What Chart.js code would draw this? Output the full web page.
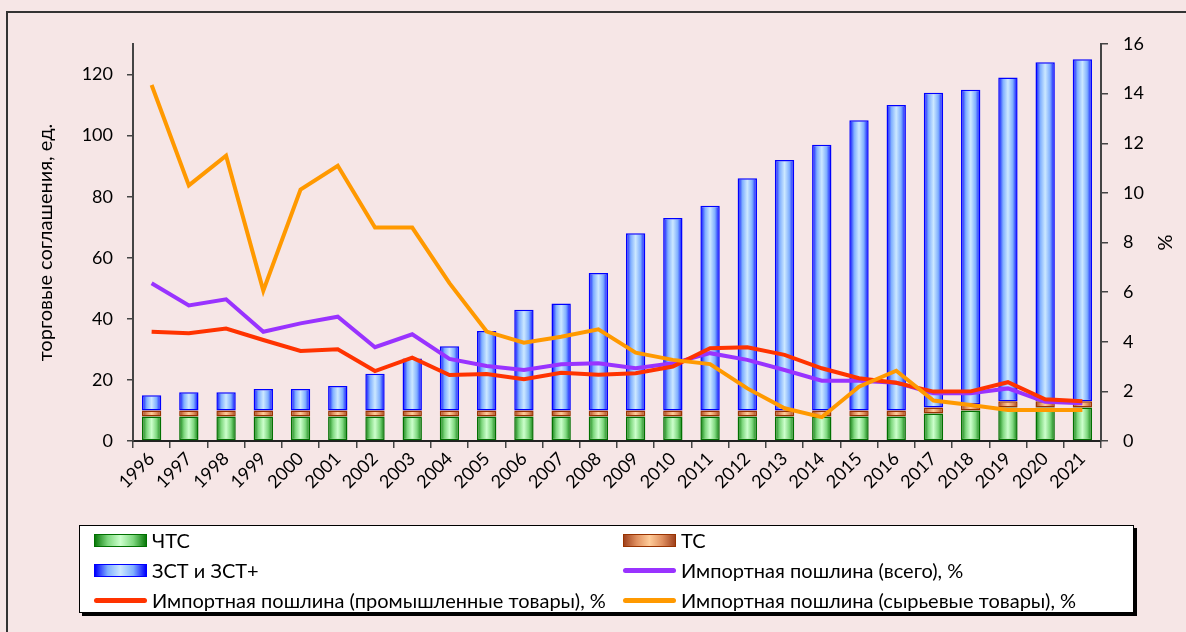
<!DOCTYPE html>
<html>
<head>
<meta charset="utf-8">
<script src="https://cdn.jsdelivr.net/npm/chart.js@4/dist/chart.umd.min.js"></script>
<style>
html,body{margin:0;padding:0;background:#f6e6e6;overflow:hidden;}
#wrap{position:relative;width:1186px;height:632px;}
#frame{position:absolute;left:6px;top:11px;width:1300px;height:700px;border:2px solid #333;box-sizing:border-box;}
#c{position:absolute;left:0;top:0;}
#legend{position:absolute;left:79px;top:525px;width:1055px;height:88px;background:#fff;border:1.5px solid #000;box-shadow:3px 3px 0 #000;box-sizing:border-box;font-family:Lato;font-size:20px;color:#000;}
.item{position:absolute;display:flex;align-items:center;height:24px;white-space:nowrap;}
.sw{width:53px;height:13px;margin-right:5px;box-sizing:border-box;}
.ln{width:53px;height:5px;border-radius:3px;margin-right:5px;}
</style>
</head>
<body>
<div id="wrap">
<div id="frame"></div>
<canvas id="c" width="1186" height="632"></canvas>
<div id="legend"></div>
</div>
<script>
let years=["1996","1997","1998","1999","2000","2001","2002","2003","2004","2005","2006","2007","2008","2009","2010","2011","2012","2013","2014","2015","2016","2017","2018","2019","2020","2021"];

// торговые соглашения, ед.
let chts=[8,8,8,8,8,8,8,8,8,8,8,8,8,8,8,8,8,8,8,8,8,9,10,11,11,11];
let ts=[2,2,2,2,2,2,2,2,2,2,2,2,2,2,2,2,2,2,2,2,2,2,2,2,2,2];
let zst=[5,6,6,7,7,8,12,17,21,26,33,35,45,58,63,67,76,82,87,95,100,103,103,106,111,112];

// импортная пошлина, %
let dutyAll=[6.36,5.46,5.71,4.4,4.74,5.01,3.78,4.3,3.31,3.02,2.86,3.09,3.13,2.93,3.13,3.54,3.27,2.86,2.43,2.43,2.35,1.92,1.92,2.12,1.58,1.52];
let dutyInd=[4.4,4.34,4.53,4.07,3.63,3.7,2.82,3.36,2.66,2.7,2.49,2.75,2.67,2.73,3.0,3.74,3.78,3.47,2.93,2.53,2.35,1.99,2.0,2.37,1.68,1.6];
let dutyRaw=[14.35,10.3,11.5,6.06,10.13,11.09,8.6,8.6,6.36,4.41,3.96,4.2,4.5,3.56,3.27,3.1,2.12,1.32,0.96,2.19,2.83,1.63,1.45,1.25,1.25,1.25];

let barPct=0.52;

function barGrad(dark,mid,light){
return function(ctx){
let chart=ctx.chart;
let xs=chart.scales.x;
if(ctx.type!=="data"||!chart.chartArea||!xs) return light;
let cx=xs.getPixelForValue(ctx.dataIndex);
let w=xs.width/years.length*barPct;
let g=chart.ctx.createLinearGradient(cx-w/2,0,cx+w/2,0);
g.addColorStop(0,dark);
g.addColorStop(0.25,mid);
g.addColorStop(0.5,light);
g.addColorStop(0.75,mid);
g.addColorStop(1,dark);
return g;
};
}

let font={family:"Lato",size:18};
let titleFont={family:"Lato",size:20};

let chart=new Chart(document.getElementById("c"),{
type:"bar",
data:{
labels:years,
datasets:[
{label:"ЧТС",data:chts,yAxisID:"y",order:3,
backgroundColor:barGrad("#0a7a0a","#7fd87f","#ccffcc"),borderColor:"#007000",borderWidth:1.5,borderSkipped:false,
legendCss:"linear-gradient(to right,#0a7a0a,#7fd87f 25%,#ccffcc 50%,#7fd87f 75%,#0a7a0a)"},
{label:"ТС",data:ts,yAxisID:"y",order:3,
backgroundColor:barGrad("#a0421e","#e09060","#ffcc99"),borderColor:"#993300",borderWidth:1.5,borderSkipped:false,
legendCss:"linear-gradient(to right,#a0421e,#e09060 25%,#ffcc99 50%,#e09060 75%,#a0421e)"},
{label:"ЗСТ и ЗСТ+",data:zst,yAxisID:"y",order:3,
backgroundColor:barGrad("#0000ff","#80b0ff","#cce8ff"),borderColor:"#0000ff",borderWidth:1.5,borderSkipped:false,
legendCss:"linear-gradient(to right,#0000ff,#80b0ff 25%,#cce8ff 50%,#80b0ff 75%,#0000ff)"},
{type:"line",label:"Импортная пошлина (всего), %",data:dutyAll,yAxisID:"y1",order:2,
borderColor:"#9933ff",borderWidth:4,pointRadius:0,tension:0},
{type:"line",label:"Импортная пошлина (промышленные товары), %",data:dutyInd,yAxisID:"y1",order:1,
borderColor:"#ff3300",borderWidth:4,pointRadius:0,tension:0},
{type:"line",label:"Импортная пошлина (сырьевые товары), %",data:dutyRaw,yAxisID:"y1",order:0,
borderColor:"#ff9900",borderWidth:4,pointRadius:0,tension:0}
]
},
options:{
responsive:false,
animation:false,
categoryPercentage:1,
barPercentage:barPct,
layout:{padding:{left:34,right:10,top:44,bottom:111}},
plugins:{legend:{display:false},tooltip:{enabled:false}},
scales:{
x:{
stacked:true,
afterFit:function(s){s.height=80;},
grid:{display:true,drawOnChartArea:false,tickLength:7,color:"#444",lineWidth:1.5},
border:{display:true,color:"#222",width:2},
ticks:{autoSkip:false,maxRotation:45,minRotation:45,font:font,color:"#000",padding:0}
},
y:{
stacked:true,position:"left",min:0,max:130,
afterFit:function(s){s.width=99;},
grid:{display:true,drawOnChartArea:false,tickLength:6,color:"#444",lineWidth:1.5},
border:{display:true,color:"#444",width:2},
ticks:{stepSize:20,includeBounds:false,font:font,color:"#000",padding:14},
title:{display:true,text:"торговые соглашения, ед.",font:titleFont,color:"#000",padding:0}
},
y1:{
position:"right",min:0,max:16,
afterFit:function(s){s.width=75;},
grid:{display:true,drawOnChartArea:false,tickLength:7,color:"#444",lineWidth:1.5},
border:{display:true,color:"#444",width:2},
ticks:{stepSize:2,font:font,color:"#000",padding:15},
title:{display:true,text:"%",font:titleFont,color:"#000",padding:0}
}
}
}
});

// легенда в две колонки
function makeLegend(){
let box=document.getElementById("legend");
chart.data.datasets.forEach(function(ds,i){
let item=document.createElement("div");
item.className="item";
item.style.left=(i%2===0?14:543)+"px";
item.style.top=(2+Math.floor(i/2)*30)+"px";
let sw=document.createElement("div");
if(ds.type==="line"){
sw.className="ln";
sw.style.background=ds.borderColor;
}else{
sw.className="sw";
sw.style.background=ds.legendCss;
sw.style.border="1.5px solid "+ds.borderColor;
}
let t=document.createElement("span");
t.innerText=ds.label;
item.appendChild(sw);
item.appendChild(t);
box.appendChild(item);
});
}
makeLegend();
</script>
</body>
</html>
